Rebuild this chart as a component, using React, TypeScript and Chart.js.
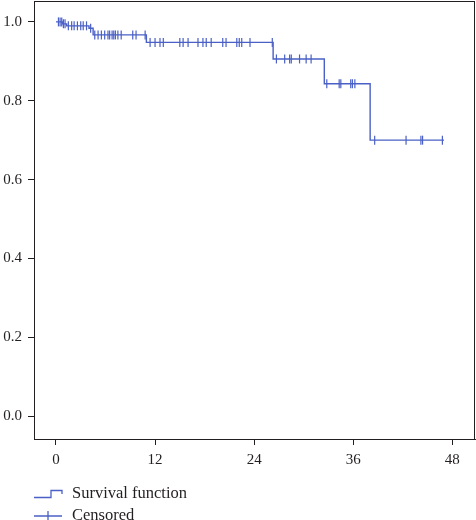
import React, { useEffect, useRef } from "react";
import { Chart, registerables } from "chart.js";

Chart.register(...registerables);

// Kaplan–Meier survival estimate: event times (months) and survival after each step
const stepTimes = [0, 0.8, 1.3, 4.0, 4.5, 10.95, 26.3, 32.5, 38.05, 47];
const stepSurvival = [1.0, 0.995, 0.99, 0.984, 0.967, 0.948, 0.906, 0.843, 0.7, 0.7];

// Censored observations (time, survival level at which they sit)
const censorTimes = [
  0.3, 0.5, 0.7,
  0.9, 1.1,
  1.5, 1.9, 2.2, 2.6, 3.0, 3.3, 3.7,
  4.2,
  4.7, 5.1, 5.5, 5.9, 6.3, 6.5, 6.8, 7.0, 7.2, 7.5, 7.9, 9.3, 9.7, 10.8,
  11.4, 12.0, 12.6, 13.0, 15.0, 15.4, 16.0, 17.2, 17.8, 18.2, 18.8, 20.2, 20.6, 21.9, 22.2, 22.5, 23.5, 26.2,
  26.7, 27.7, 28.3, 28.5, 29.5, 30.3, 30.9,
  32.8, 34.3, 34.5, 35.7, 35.9, 36.2,
  38.6, 42.4, 44.2, 44.4, 46.8,
];
const censorSurvival = [
  1.0, 1.0, 1.0,
  0.995, 0.995,
  0.99, 0.99, 0.99, 0.99, 0.99, 0.99, 0.99,
  0.984,
  0.967, 0.967, 0.967, 0.967, 0.967, 0.967, 0.967, 0.967, 0.967, 0.967, 0.967, 0.967, 0.967, 0.967,
  0.948, 0.948, 0.948, 0.948, 0.948, 0.948, 0.948, 0.948, 0.948, 0.948, 0.948, 0.948, 0.948, 0.948, 0.948, 0.948, 0.948, 0.948,
  0.906, 0.906, 0.906, 0.906, 0.906, 0.906, 0.906,
  0.843, 0.843, 0.843, 0.843, 0.843, 0.843,
  0.7, 0.7, 0.7, 0.7, 0.7,
];

const xTicks = [0, 12, 24, 36, 48];
const yTicks = [0.0, 0.2, 0.4, 0.6, 0.8, 1.0];
const legendLabels = ["Survival function", "Censored"];

const BLUE = "#4a60c6";
const INK = "#231f20";
const FONT = "'Liberation Serif', 'Times New Roman', serif";

// Outline box around the plotting area plus the legend beneath the axis
const framePlugin = {
  id: "frameAndLegend",
  afterDraw(chart: any) {
    const { ctx, chartArea } = chart;
    ctx.save();
    ctx.strokeStyle = INK;
    ctx.lineWidth = 1;
    ctx.strokeRect(
      Math.round(chartArea.left) + 0.5,
      Math.round(chartArea.top) + 0.5,
      Math.round(chartArea.right - chartArea.left) - 1,
      Math.round(chartArea.bottom - chartArea.top)
    );

    // legend
    const x0 = chartArea.left;
    const y1 = 494;
    const y2 = 516;
    ctx.strokeStyle = BLUE;
    ctx.lineWidth = 1.3;
    ctx.beginPath();
    ctx.moveTo(x0, y1 + 3.5);
    ctx.lineTo(x0 + 17, y1 + 3.5);
    ctx.lineTo(x0 + 17, y1 - 3.5);
    ctx.lineTo(x0 + 28, y1 - 3.5);
    ctx.lineTo(x0 + 28, y1);
    ctx.stroke();

    ctx.beginPath();
    ctx.moveTo(x0, y2);
    ctx.lineTo(x0 + 28, y2);
    ctx.moveTo(x0 + 14, y2 - 5);
    ctx.lineTo(x0 + 14, y2 + 5);
    ctx.stroke();

    ctx.fillStyle = INK;
    ctx.font = `16.5px ${FONT}`;
    ctx.textBaseline = "middle";
    ctx.textAlign = "left";
    ctx.fillText(legendLabels[0], x0 + 38, y1);
    ctx.fillText(legendLabels[1], x0 + 38, y2);
    ctx.restore();
  },
};

// keep tick-label overhang from shrinking the plot area
const noOverhang = (scale: any) => {
  scale.paddingTop = 0;
  scale.paddingBottom = 0;
  scale.paddingLeft = 0;
  scale.paddingRight = 0;
};

export default function App() {
  const ref = useRef<HTMLCanvasElement | null>(null);

  useEffect(() => {
    document.body.style.margin = "0";
    const canvas = ref.current;
    if (!canvas) return;

    const chart = new Chart(canvas, {
      type: "scatter",
      data: {
        datasets: [
          {
            label: legendLabels[0],
            type: "line",
            data: stepTimes.map((t, i) => ({ x: t, y: stepSurvival[i] })),
            stepped: "before",
            borderColor: BLUE,
            borderWidth: 1.4,
            pointRadius: 0,
            fill: false,
          } as any,
          {
            label: legendLabels[1],
            data: censorTimes.map((t, i) => ({ x: t, y: censorSurvival[i] })),
            pointStyle: "line",
            rotation: 90,
            pointRadius: 4.5,
            borderColor: BLUE,
            backgroundColor: BLUE,
            borderWidth: 1.2,
          } as any,
        ],
      },
      options: {
        animation: false,
        responsive: false,
        layout: { autoPadding: false, padding: { top: 1, right: 1, left: 0, bottom: 0 } },
        plugins: { legend: { display: false }, tooltip: { enabled: false } },
        scales: {
          x: {
            type: "linear",
            min: -2.66,
            max: 50.75,
            afterBuildTicks: (scale: any) => {
              scale.ticks = xTicks.map((v) => ({ value: v }));
            },
            afterFit: (scale: any) => {
              scale.height = 81;
              noOverhang(scale);
            },
            grid: {
              display: true,
              drawOnChartArea: false,
              drawTicks: true,
              tickLength: 6,
              color: INK,
            },
            border: { display: true, color: INK, width: 1 },
            ticks: {
              color: INK,
              font: { family: FONT, size: 15 },
              padding: 6,
              maxRotation: 0,
              callback: (v: any) => String(v),
            },
          },
          y: {
            type: "linear",
            min: -0.058,
            max: 1.053,
            afterBuildTicks: (scale: any) => {
              scale.ticks = yTicks.map((v) => ({ value: v }));
            },
            afterFit: (scale: any) => {
              scale.width = 34;
              noOverhang(scale);
            },
            grid: {
              display: true,
              drawOnChartArea: false,
              drawTicks: true,
              tickLength: 6,
              color: INK,
            },
            border: { display: true, color: INK, width: 1 },
            ticks: {
              color: INK,
              font: { family: FONT, size: 15 },
              padding: 6,
              callback: (v: any) => Number(v).toFixed(1),
            },
          },
        },
      },
      plugins: [framePlugin],
    });

    return () => chart.destroy();
  }, []);

  return <canvas ref={ref} width={476} height={520} style={{ display: "block" }} />;
}
